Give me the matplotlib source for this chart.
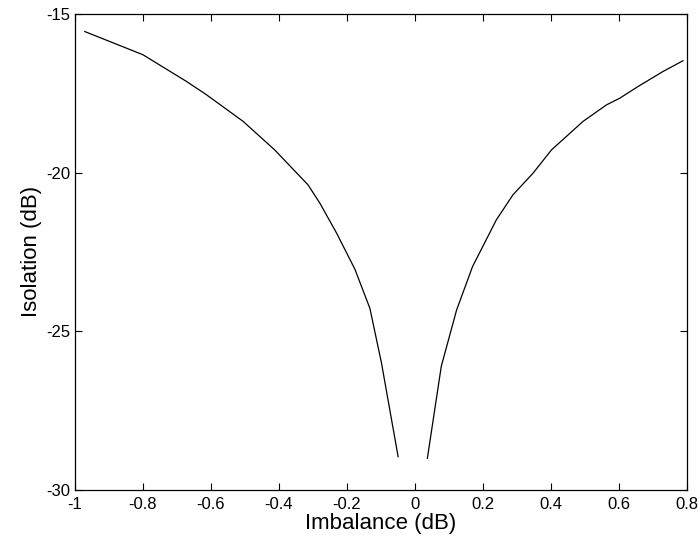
import matplotlib.pyplot as plt
import numpy as np

plt.rcParams['font.family'] = ['Liberation Sans', 'DejaVu Sans']
plt.rcParams['axes.unicode_minus'] = False

# left branch (negative imbalance)
x_left = [-0.971, -0.80, -0.672, -0.613, -0.505, -0.412, -0.314, -0.279,
          -0.230, -0.176, -0.132, -0.098, -0.049]
y_left = [-15.56, -16.29, -17.13, -17.55, -18.39, -19.29, -20.39, -20.97,
          -21.91, -23.05, -24.28, -26.0, -28.95]

# right branch (positive imbalance)
x_right = [0.037, 0.078, 0.123, 0.170, 0.240, 0.289, 0.348, 0.402,
           0.495, 0.564, 0.603, 0.657, 0.730, 0.789]
y_right = [-29.0, -26.1, -24.33, -22.96, -21.49, -20.70, -20.02, -19.29,
           -18.39, -17.87, -17.66, -17.29, -16.82, -16.48]

xticks = [-1, -0.8, -0.6, -0.4, -0.2, 0, 0.2, 0.4, 0.6, 0.8]
xticklabels = ['-1', '-0.8', '-0.6', '-0.4', '-0.2', '0', '0.2', '0.4', '0.6', '0.8']
yticks = [-30, -25, -20, -15]

fig = plt.figure(figsize=(7, 5.5), dpi=100)
ax = fig.add_axes([0.107, 0.109, 0.874, 0.866])

ax.plot(x_left, y_left, color='black', linewidth=0.9)
ax.plot(x_right, y_right, color='black', linewidth=0.9)

ax.set_xlim(-1, 0.8)
ax.set_ylim(-30, -15)
ax.set_xticks(xticks)
ax.set_xticklabels(xticklabels)
ax.set_yticks(yticks)
ax.tick_params(direction='in', top=True, right=True, length=5, width=0.8,
               labelsize=12)
ax.tick_params(axis='x', pad=5)
for s in ax.spines.values():
    s.set_linewidth(0.9)

ax.set_xlabel('Imbalance (dB)', fontsize=16, labelpad=1)
ax.set_ylabel('Isolation (dB)', fontsize=16, labelpad=3)

fig.savefig('out.png', dpi=100)
